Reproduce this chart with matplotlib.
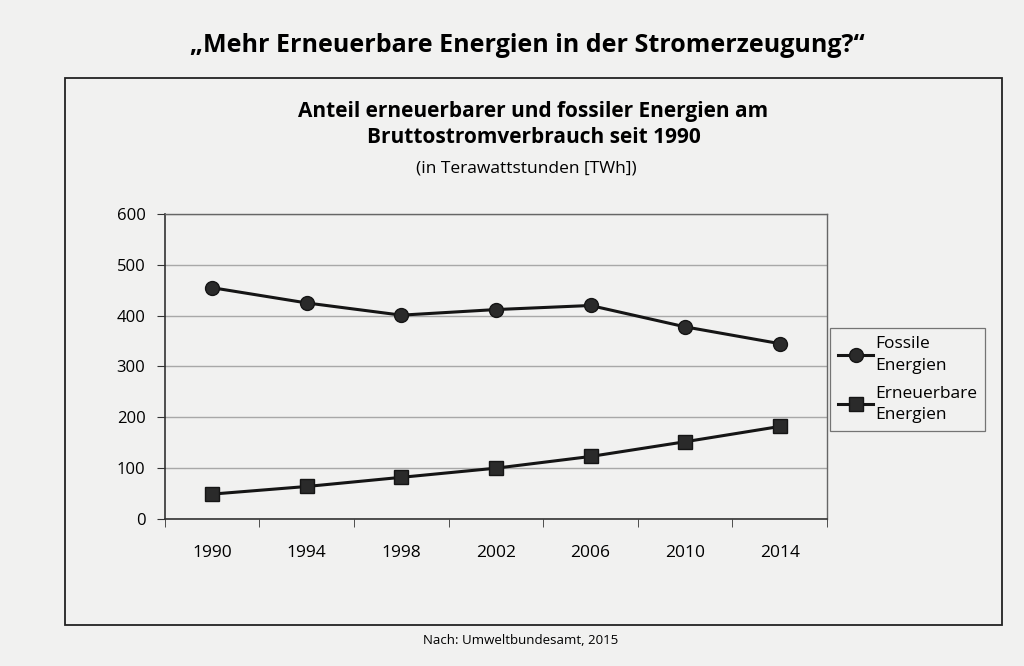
import numpy as np
import matplotlib.pyplot as plt
from matplotlib.patches import Rectangle

years = ['1990', '1994', '1998', '2002', '2006', '2010', '2014']
fossil = [455, 425, 401, 412, 420, 378, 345]
renewable = [49, 64, 82, 100, 123, 152, 182]
yticks = [0, 100, 200, 300, 400, 500, 600]

plt.rcParams['font.family'] = ['Open Sans', 'DejaVu Sans']

bg = '#f1f1f0'
fig = plt.figure(figsize=(10.24, 6.66), dpi=100, facecolor=bg)

# outer frame around the chart
fig.patches.append(Rectangle((0.0635, 0.0616), 0.915, 0.8214, transform=fig.transFigure,
                             fill=False, edgecolor='#222222', linewidth=1.3))

ax = fig.add_axes([0.161, 0.2207, 0.6466, 0.458])
ax.set_facecolor(bg)
x = np.arange(len(years))
ax.plot(x, fossil, color='#151515', linewidth=2.2, marker='o', markersize=10,
        markerfacecolor='#2a2a2a', markeredgecolor='#151515', label='Fossile\nEnergien')
ax.plot(x, renewable, color='#151515', linewidth=2.2, marker='s', markersize=9.5,
        markerfacecolor='#2a2a2a', markeredgecolor='#151515', label='Erneuerbare\nEnergien')

ax.set_xlim(-0.5, len(years) - 0.5)
ax.set_ylim(0, 600)
ax.set_yticks(yticks)
ax.set_yticklabels([str(v) for v in yticks], fontsize=12)
ax.set_xticks(x)
ax.set_xticklabels(years, fontsize=12.5)
ax.tick_params(axis='x', which='major', length=0, pad=19)
ax.set_xticks(np.arange(-0.5, len(years) + 0.5, 1), minor=True)
ax.tick_params(axis='x', which='minor', length=6, color='#333333')
ax.tick_params(axis='y', length=6, color='#333333', pad=8)
ax.grid(axis='y', color='#a8a8a8', linewidth=1)
ax.set_axisbelow(True)
for s in ['left', 'bottom']:
    ax.spines[s].set_color('#333333')
    ax.spines[s].set_linewidth(1.2)
for s in ['top', 'right']:
    ax.spines[s].set_color('#666666')
    ax.spines[s].set_linewidth(1.0)

leg = fig.legend(loc='upper left', bbox_to_anchor=(0.811, 0.507), fontsize=12.5,
                 frameon=True, fancybox=False, edgecolor='#555555', facecolor=bg,
                 handlelength=2.0, handletextpad=0.15, borderpad=0.45,
                 labelspacing=0.7, borderaxespad=0)
leg.get_frame().set_linewidth(0.9)
for t in leg.get_texts():
    t.set_linespacing(1.45)

fig.text(0.515, 0.932, '„Mehr Erneuerbare Energien in der Stromerzeugung?“', ha='center',
         va='center', fontsize=18, fontweight='bold',
         family=['Liberation Sans Narrow', 'Open Sans', 'DejaVu Sans'])
fig.text(0.521, 0.832, 'Anteil erneuerbarer und fossiler Energien am', ha='center',
         va='center', fontsize=15, fontweight='bold')
fig.text(0.521, 0.794, 'Bruttostromverbrauch seit 1990', ha='center',
         va='center', fontsize=15, fontweight='bold')
fig.text(0.514, 0.747, '(in Terawattstunden [TWh])', ha='center', va='center', fontsize=12.5)
fig.text(0.508, 0.038, 'Nach: Umweltbundesamt, 2015', ha='center', va='center', fontsize=9.5,
         family=['Liberation Sans Narrow', 'Open Sans', 'DejaVu Sans'])

fig.savefig('out.png', dpi=100, facecolor=bg)
